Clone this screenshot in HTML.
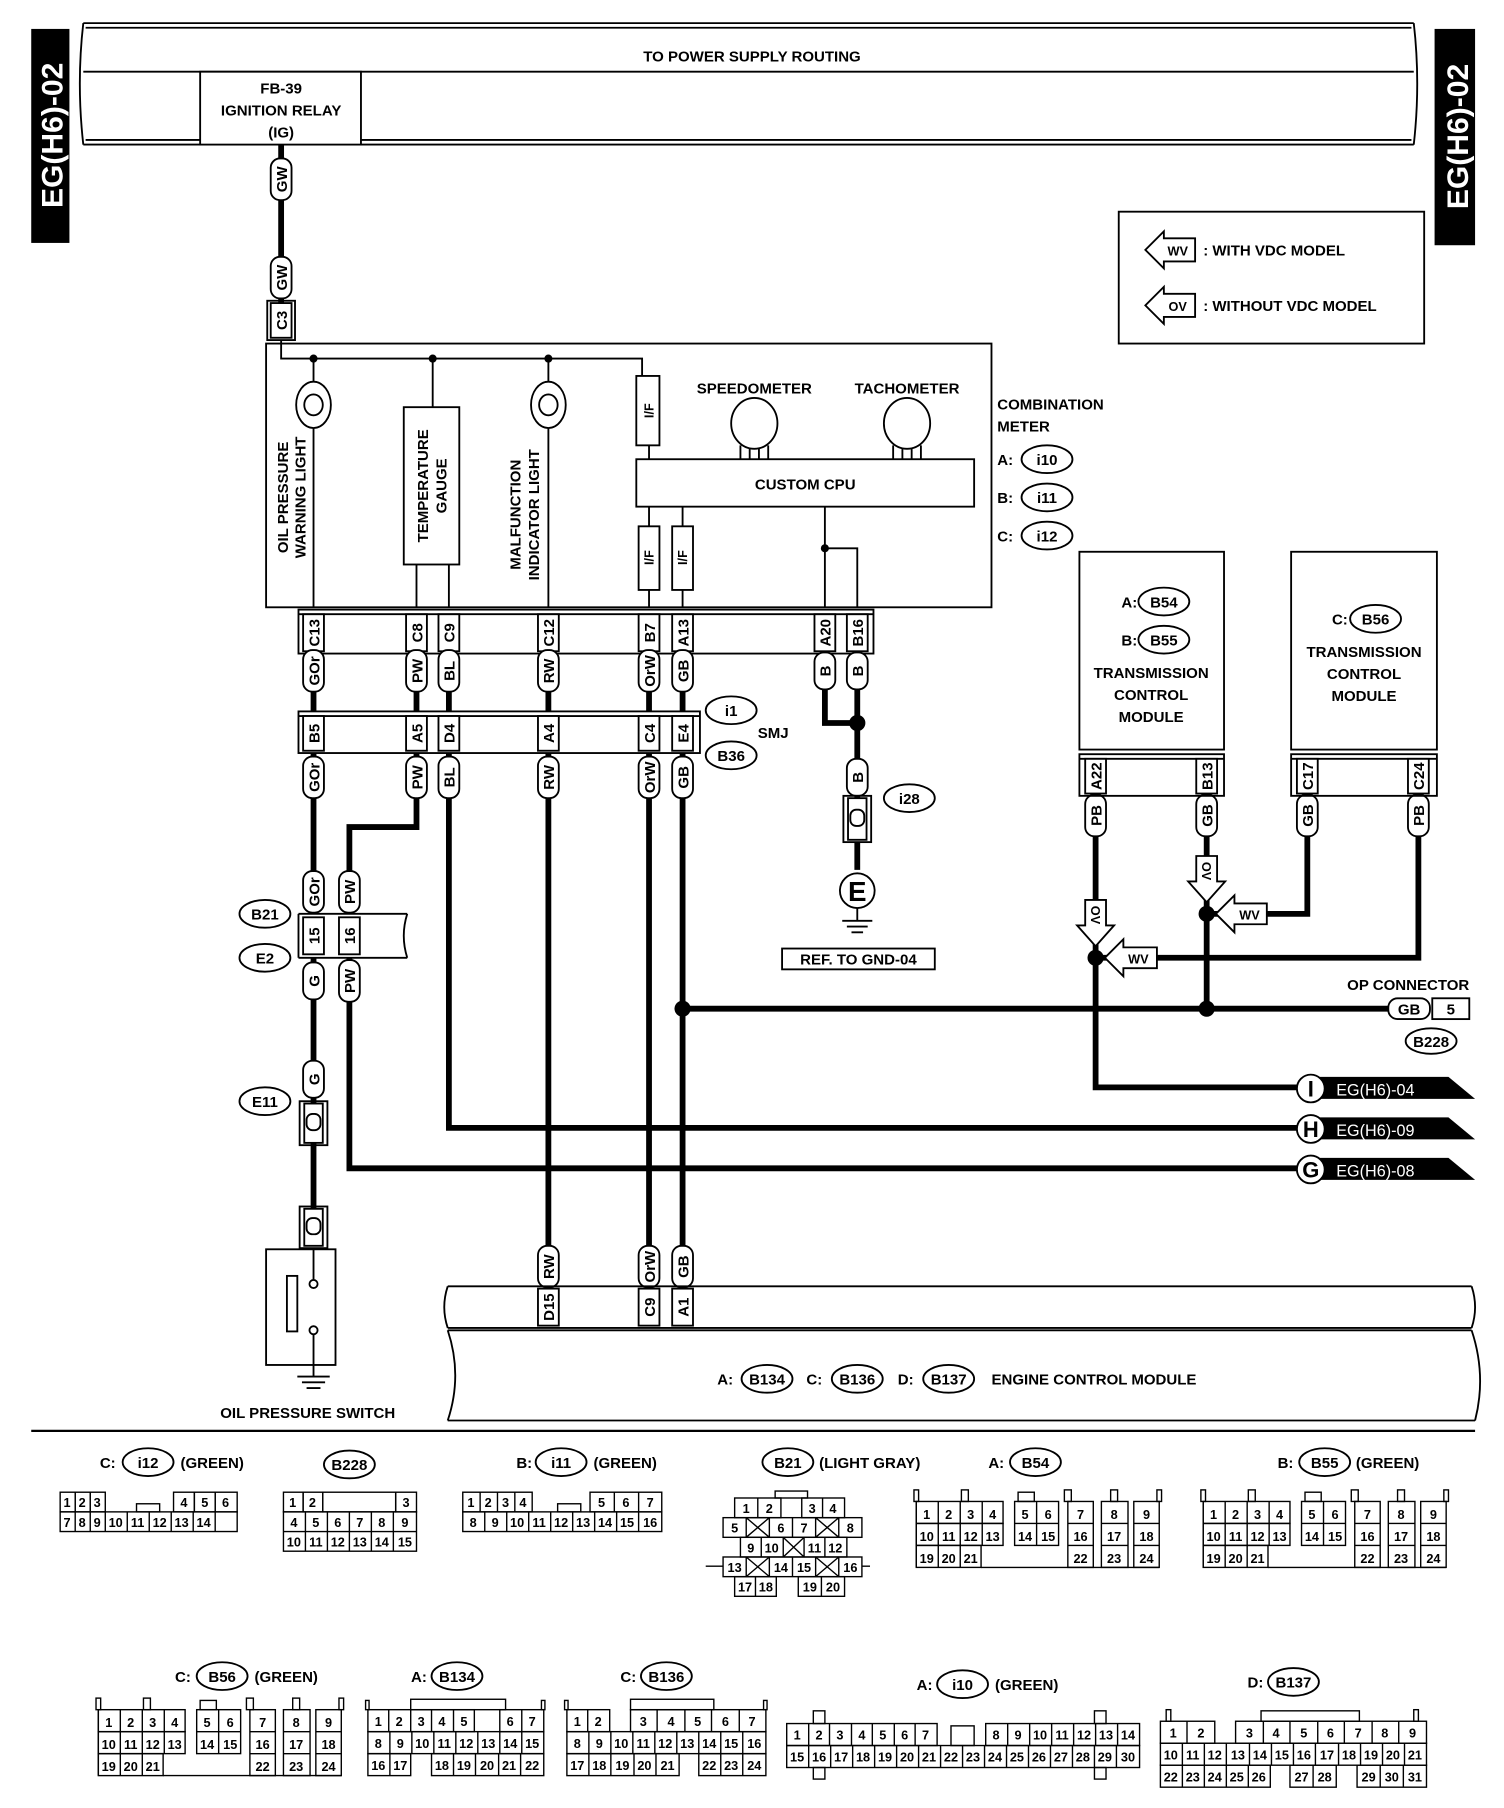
<!DOCTYPE html>
<html><head><meta charset="utf-8"><style>
html,body{margin:0;padding:0;background:#fff}
svg{display:block}
text{font-family:"Liberation Sans",sans-serif;font-weight:bold;fill:#000}
.t{font-size:13px}
.s{font-size:11px}
.w{stroke:#000;stroke-width:5;fill:none}
.n{stroke:#000;stroke-width:1.6;fill:none}
.b{stroke:#000;stroke-width:1.6;fill:#fff}
</style></head><body>
<svg width="1504" height="1808" viewBox="0 0 1300 1563" preserveAspectRatio="none" xmlns="http://www.w3.org/2000/svg">
<rect x="27" y="25" width="33" height="185" fill="#000"/>
<text transform="translate(54,117) rotate(-90)" text-anchor="middle" style="font-size:26px;fill:#fff">EG(H6)-02</text>
<rect x="1240" y="25" width="35" height="187" fill="#000"/>
<text transform="translate(1269,118) rotate(-90)" text-anchor="middle" style="font-size:26px;fill:#fff">EG(H6)-02</text>
<path class="n" d="M72,20 H1222 M72,125 H1222 M72,20 Q66,72 72,125 M1222,20 Q1228,72 1222,125 M72,62 H1222"/>
<path class="n" d="M74,24 H1220 M74,121 H1220" stroke-width="1"/>
<text x="650" y="53" text-anchor="middle" class="t">TO POWER SUPPLY ROUTING</text>
<rect x="173" y="62" width="139" height="63" class="b"/>
<text x="243" y="81" text-anchor="middle" class="t">FB-39</text>
<text x="243" y="100" text-anchor="middle" class="t">IGNITION RELAY</text>
<text x="243" y="119" text-anchor="middle" class="t">(IG)</text>
<rect x="967" y="183" width="264" height="114" class="n"/>
<polygon class="b" points="990,216 1006,200 1006,206 1033,206 1033,226 1006,226 1006,232"/>
<text x="1018" y="221" text-anchor="middle" class="s">WV</text>
<text x="1040" y="221" class="t">: WITH VDC MODEL</text>
<polygon class="b" points="990,264 1006,248 1006,254 1033,254 1033,274 1006,274 1006,280"/>
<text x="1018" y="269" text-anchor="middle" class="s">OV</text>
<text x="1040" y="269" class="t">: WITHOUT VDC MODEL</text>
<line class="w" x1="243" y1="125" x2="243" y2="262"/>
<g transform="translate(243,155)"><rect x="-9" y="-18" width="18" height="36" rx="8" class="b"/><text transform="rotate(-90)" y="5" text-anchor="middle" class="t">GW</text></g>
<g transform="translate(243,240)"><rect x="-9" y="-18" width="18" height="36" rx="8" class="b"/><text transform="rotate(-90)" y="5" text-anchor="middle" class="t">GW</text></g>
<rect x="231" y="260" width="24" height="34" class="n"/>
<rect x="234" y="262" width="18" height="30" class="b"/>
<text transform="translate(248,277) rotate(-90)" text-anchor="middle" class="t">C3</text>
<rect x="230" y="297" width="627" height="228" class="n"/>
<path class="n" d="M243,294 V310 H555 V325"/>
<circle cx="271" cy="310" r="3.5"/><circle cx="374" cy="310" r="3.5"/><circle cx="474" cy="310" r="3.5"/>
<path class="n" d="M271,310 V525 M374,310 V352 M360,488 V525 M388,488 V525 M474,310 V525"/>
<ellipse cx="271" cy="350" rx="15" ry="20" class="b" stroke-width="2"/><ellipse cx="271" cy="350" rx="8" ry="9" class="n" stroke-width="2"/>
<ellipse cx="474" cy="350" rx="15" ry="20" class="b" stroke-width="2"/><ellipse cx="474" cy="350" rx="8" ry="9" class="n" stroke-width="2"/>
<text transform="translate(249,430) rotate(-90)" text-anchor="middle" class="t">OIL PRESSURE</text>
<text transform="translate(264,430) rotate(-90)" text-anchor="middle" class="t">WARNING LIGHT</text>
<rect x="349" y="352" width="48" height="136" class="b"/>
<text transform="translate(370,420) rotate(-90)" text-anchor="middle" class="t">TEMPERATURE</text>
<text transform="translate(386,420) rotate(-90)" text-anchor="middle" class="t">GAUGE</text>
<text transform="translate(450,445) rotate(-90)" text-anchor="middle" class="t">MALFUNCTION</text>
<text transform="translate(466,445) rotate(-90)" text-anchor="middle" class="t">INDICATOR LIGHT</text>
<rect x="550" y="325" width="20" height="60" class="b"/>
<text transform="translate(565,355) rotate(-90)" text-anchor="middle" class="s">I/F</text>
<path class="n" d="M561,385 V397"/>
<text x="652" y="340" text-anchor="middle" class="t">SPEEDOMETER</text>
<text x="784" y="340" text-anchor="middle" class="t">TACHOMETER</text>
<ellipse cx="652" cy="366" rx="20" ry="22" class="b"/>
<ellipse cx="784" cy="366" rx="20" ry="22" class="b"/>
<path class="n" d="M640,385 V397 M648,388 V397 M656,388 V397 M664,385 V397 M772,385 V397 M780,388 V397 M788,388 V397 M796,385 V397"/>
<rect x="550" y="397" width="292" height="41" class="b"/>
<text x="696" y="423" text-anchor="middle" class="t">CUSTOM CPU</text>
<path class="n" d="M561,438 V525 M590,438 V525 M713,438 V525 M713,474 H741 V525"/>
<circle cx="713" cy="474" r="3.5"/>
<rect x="552" y="455" width="18" height="55" class="b"/>
<rect x="581" y="455" width="18" height="55" class="b"/>
<text transform="translate(565,482) rotate(-90)" text-anchor="middle" class="s">I/F</text>
<text transform="translate(594,482) rotate(-90)" text-anchor="middle" class="s">I/F</text>
<text x="862" y="354" class="t">COMBINATION</text>
<text x="862" y="373" class="t">METER</text>
<text x="862" y="402" class="t">A:</text><ellipse cx="905" cy="397" rx="22" ry="12" class="b"/><text x="905" y="402" text-anchor="middle" class="t">i10</text>
<text x="862" y="435" class="t">B:</text><ellipse cx="905" cy="430" rx="22" ry="12" class="b"/><text x="905" y="435" text-anchor="middle" class="t">i11</text>
<text x="862" y="468" class="t">C:</text><ellipse cx="905" cy="463" rx="22" ry="12" class="b"/><text x="905" y="468" text-anchor="middle" class="t">i12</text>
<rect x="258" y="527" width="497" height="38" class="n"/>
<line x1="258" y1="531" x2="755" y2="531" class="n" stroke-width="1"/>
<g class="t">
<rect x="262" y="531" width="18" height="32" class="b"/><text transform="translate(276,547) rotate(-90)" text-anchor="middle">C13</text>
<rect x="351" y="531" width="18" height="32" class="b"/><text transform="translate(365,547) rotate(-90)" text-anchor="middle">C8</text>
<rect x="379" y="531" width="18" height="32" class="b"/><text transform="translate(393,547) rotate(-90)" text-anchor="middle">C9</text>
<rect x="465" y="531" width="18" height="32" class="b"/><text transform="translate(479,547) rotate(-90)" text-anchor="middle">C12</text>
<rect x="552" y="531" width="18" height="32" class="b"/><text transform="translate(566,547) rotate(-90)" text-anchor="middle">B7</text>
<rect x="581" y="531" width="18" height="32" class="b"/><text transform="translate(595,547) rotate(-90)" text-anchor="middle">A13</text>
<rect x="704" y="531" width="18" height="32" class="b"/><text transform="translate(718,547) rotate(-90)" text-anchor="middle">A20</text>
<rect x="732" y="531" width="18" height="32" class="b"/><text transform="translate(746,547) rotate(-90)" text-anchor="middle">B16</text>
</g>
<path class="w" d="M271,565 V615 M360,565 V615 M388,565 V615 M474,565 V615 M561,565 V615 M590,565 V615"/>
<path class="w" d="M713,565 V625 H741 M741,565 V690"/>
<circle cx="741" cy="625" r="7"/>
<g class="t">
<g transform="translate(271,580)"><rect x="-9" y="-18" width="18" height="36" rx="8" class="b"/><text transform="rotate(-90)" y="5" text-anchor="middle">GOr</text></g>
<g transform="translate(360,580)"><rect x="-9" y="-18" width="18" height="36" rx="8" class="b"/><text transform="rotate(-90)" y="5" text-anchor="middle">PW</text></g>
<g transform="translate(388,580)"><rect x="-9" y="-18" width="18" height="36" rx="8" class="b"/><text transform="rotate(-90)" y="5" text-anchor="middle">BL</text></g>
<g transform="translate(474,580)"><rect x="-9" y="-18" width="18" height="36" rx="8" class="b"/><text transform="rotate(-90)" y="5" text-anchor="middle">RW</text></g>
<g transform="translate(561,580)"><rect x="-9" y="-18" width="18" height="36" rx="8" class="b"/><text transform="rotate(-90)" y="5" text-anchor="middle">OrW</text></g>
<g transform="translate(590,580)"><rect x="-9" y="-18" width="18" height="36" rx="8" class="b"/><text transform="rotate(-90)" y="5" text-anchor="middle">GB</text></g>
<g transform="translate(713,580)"><rect x="-9" y="-16" width="18" height="32" rx="8" class="b"/><text transform="rotate(-90)" y="5" text-anchor="middle">B</text></g>
<g transform="translate(741,580)"><rect x="-9" y="-16" width="18" height="32" rx="8" class="b"/><text transform="rotate(-90)" y="5" text-anchor="middle">B</text></g>
</g>
<rect x="258" y="615" width="347" height="36" class="n"/>
<line x1="258" y1="619" x2="605" y2="619" class="n" stroke-width="1"/>
<g class="t">
<rect x="262" y="619" width="18" height="30" class="b"/><text transform="translate(276,634) rotate(-90)" text-anchor="middle">B5</text>
<rect x="351" y="619" width="18" height="30" class="b"/><text transform="translate(365,634) rotate(-90)" text-anchor="middle">A5</text>
<rect x="379" y="619" width="18" height="30" class="b"/><text transform="translate(393,634) rotate(-90)" text-anchor="middle">D4</text>
<rect x="465" y="619" width="18" height="30" class="b"/><text transform="translate(479,634) rotate(-90)" text-anchor="middle">A4</text>
<rect x="552" y="619" width="18" height="30" class="b"/><text transform="translate(566,634) rotate(-90)" text-anchor="middle">C4</text>
<rect x="581" y="619" width="18" height="30" class="b"/><text transform="translate(595,634) rotate(-90)" text-anchor="middle">E4</text>
</g>
<ellipse cx="632" cy="614" rx="22" ry="12" class="b"/><text x="632" y="619" text-anchor="middle" class="t">i1</text>
<text x="655" y="638" class="t">SMJ</text>
<ellipse cx="632" cy="653" rx="22" ry="12" class="b"/><text x="632" y="658" text-anchor="middle" class="t">B36</text>
<path class="w" d="M271,651 V790 M360,651 V715 H302 V790 M388,651 V975 H1125 M474,651 V1112 M561,651 V1112 M590,651 V1112 M590,872 H1200"/>
<circle cx="590" cy="872" r="7"/>
<g class="t">
<g transform="translate(271,672)"><rect x="-9" y="-18" width="18" height="36" rx="8" class="b"/><text transform="rotate(-90)" y="5" text-anchor="middle">GOr</text></g>
<g transform="translate(360,672)"><rect x="-9" y="-18" width="18" height="36" rx="8" class="b"/><text transform="rotate(-90)" y="5" text-anchor="middle">PW</text></g>
<g transform="translate(388,672)"><rect x="-9" y="-18" width="18" height="36" rx="8" class="b"/><text transform="rotate(-90)" y="5" text-anchor="middle">BL</text></g>
<g transform="translate(474,672)"><rect x="-9" y="-18" width="18" height="36" rx="8" class="b"/><text transform="rotate(-90)" y="5" text-anchor="middle">RW</text></g>
<g transform="translate(561,672)"><rect x="-9" y="-18" width="18" height="36" rx="8" class="b"/><text transform="rotate(-90)" y="5" text-anchor="middle">OrW</text></g>
<g transform="translate(590,672)"><rect x="-9" y="-18" width="18" height="36" rx="8" class="b"/><text transform="rotate(-90)" y="5" text-anchor="middle">GB</text></g>
<g transform="translate(741,672)"><rect x="-9" y="-16" width="18" height="32" rx="8" class="b"/><text transform="rotate(-90)" y="5" text-anchor="middle">B</text></g>
<g transform="translate(271,771)"><rect x="-9" y="-18" width="18" height="36" rx="8" class="b"/><text transform="rotate(-90)" y="5" text-anchor="middle">GOr</text></g>
<g transform="translate(302,771)"><rect x="-9" y="-18" width="18" height="36" rx="8" class="b"/><text transform="rotate(-90)" y="5" text-anchor="middle">PW</text></g>
</g>
<rect x="729" y="688" width="24" height="40" class="n"/>
<rect x="733" y="690" width="16" height="36" class="b"/>
<rect x="735" y="700" width="12" height="14" rx="5" class="n"/>
<line class="w" x1="741" y1="728" x2="741" y2="752" stroke-width="4"/>
<ellipse cx="786" cy="690" rx="22" ry="12" class="b"/><text x="786" y="695" text-anchor="middle" class="t">i28</text>
<circle cx="741" cy="770" r="15" class="b" stroke-width="2.5"/>
<text x="741" y="779" text-anchor="middle" style="font-size:24px">E</text>
<path class="n" d="M741,785 V796 M728,796 H754 M732,801 H750 M736,806 H746"/>
<rect x="676" y="820" width="132" height="18" class="b"/>
<text x="742" y="834" text-anchor="middle" class="t">REF. TO GND-04</text>
<path class="n" d="M258,790 H352 M258,828 H352 M258,790 V828 M352,790 Q346,809 352,828"/>
<rect x="262" y="793" width="18" height="32" class="b"/><text transform="translate(276,809) rotate(-90)" text-anchor="middle" class="t">15</text>
<rect x="293" y="793" width="18" height="32" class="b"/><text transform="translate(307,809) rotate(-90)" text-anchor="middle" class="t">16</text>
<ellipse cx="229" cy="790" rx="22" ry="12" class="b"/><text x="229" y="795" text-anchor="middle" class="t">B21</text>
<ellipse cx="229" cy="828" rx="22" ry="12" class="b"/><text x="229" y="833" text-anchor="middle" class="t">E2</text>
<path class="w" d="M271,828 V955 M302,828 V1010 H1125 M271,985 V1045"/>
<g class="t">
<g transform="translate(271,848)"><rect x="-9" y="-16" width="18" height="32" rx="8" class="b"/><text transform="rotate(-90)" y="5" text-anchor="middle">G</text></g>
<g transform="translate(302,848)"><rect x="-9" y="-18" width="18" height="36" rx="8" class="b"/><text transform="rotate(-90)" y="5" text-anchor="middle">PW</text></g>
<g transform="translate(271,933)"><rect x="-9" y="-16" width="18" height="32" rx="8" class="b"/><text transform="rotate(-90)" y="5" text-anchor="middle">G</text></g>
</g>
<rect x="259" y="952" width="24" height="38" class="n"/>
<rect x="263" y="954" width="16" height="34" class="b"/>
<rect x="265" y="963" width="12" height="14" rx="5" class="n"/>
<ellipse cx="229" cy="952" rx="22" ry="12" class="b"/><text x="229" y="957" text-anchor="middle" class="t">E11</text>
<rect x="259" y="1043" width="24" height="36" class="n"/>
<rect x="263" y="1045" width="16" height="32" class="b"/>
<rect x="265" y="1053" width="12" height="14" rx="5" class="n"/>
<rect x="230" y="1080" width="60" height="100" class="n"/>
<rect x="248" y="1103" width="9" height="48" class="n"/>
<circle cx="271" cy="1110" r="3.5" class="b"/><circle cx="271" cy="1150" r="3.5" class="b"/>
<path class="n" d="M271,1079 V1106 M271,1154 V1180 M271,1180 V1190 M257,1190 H285 M261,1195 H281 M265,1200 H277"/>
<text x="266" y="1226" text-anchor="middle" class="t">OIL PRESSURE SWITCH</text>
<path class="w" d="M947,688 V940 H1125"/>
<path class="w" d="M1043,688 V872 M1130,688 V790 H1043 M1226,688 V828 H947"/>
<circle cx="947" cy="828" r="7"/><circle cx="1043" cy="790" r="7"/><circle cx="1043" cy="872" r="7"/>
<g class="t">
<g transform="translate(947,705)"><rect x="-9" y="-18" width="18" height="36" rx="8" class="b"/><text transform="rotate(-90)" y="5" text-anchor="middle">PB</text></g>
<g transform="translate(1043,705)"><rect x="-9" y="-18" width="18" height="36" rx="8" class="b"/><text transform="rotate(-90)" y="5" text-anchor="middle">GB</text></g>
<g transform="translate(1130,705)"><rect x="-9" y="-18" width="18" height="36" rx="8" class="b"/><text transform="rotate(-90)" y="5" text-anchor="middle">GB</text></g>
<g transform="translate(1226,705)"><rect x="-9" y="-18" width="18" height="36" rx="8" class="b"/><text transform="rotate(-90)" y="5" text-anchor="middle">PB</text></g>
</g>
<polygon class="b" points="938,778 956,778 956,800 963,800 947,818 931,800 938,800"/>
<g transform="translate(947,791) rotate(90)"><text y="4" text-anchor="middle" class="s">OV</text></g>
<polygon class="b" points="1034,740 1052,740 1052,762 1059,762 1043,780 1027,762 1034,762"/>
<g transform="translate(1043,753) rotate(90)"><text y="4" text-anchor="middle" class="s">OV</text></g>
<polygon class="b" points="955,828 971,812 971,819 1000,819 1000,837 971,837 971,844"/>
<text x="984" y="833" text-anchor="middle" class="s">WV</text>
<polygon class="b" points="1051,790 1067,774 1067,781 1095,781 1095,799 1067,799 1067,806"/>
<text x="1080" y="795" text-anchor="middle" class="s">WV</text>
<text x="1270" y="856" text-anchor="end" class="t">OP CONNECTOR</text>
<rect x="1200" y="863" width="36" height="18" rx="8" class="b"/><text x="1218" y="877" text-anchor="middle" class="t">GB</text>
<rect x="1238" y="863" width="32" height="18" class="b"/><text x="1254" y="877" text-anchor="middle" class="t">5</text>
<ellipse cx="1237" cy="900" rx="22" ry="11" class="b"/><text x="1237" y="905" text-anchor="middle" class="t">B228</text>
<polygon points="1140,931 1252,931 1275,950 1140,950"/><circle cx="1133" cy="941" r="12" class="b" stroke-width="2.5"/>
<text x="1133" y="948" text-anchor="middle" style="font-size:19px">I</text><text x="1155" y="947" style="font-size:14px;fill:#fff;font-weight:normal">EG(H6)-04</text>
<polygon points="1140,966 1252,966 1275,985 1140,985"/><circle cx="1133" cy="976" r="12" class="b" stroke-width="2.5"/>
<text x="1133" y="983" text-anchor="middle" style="font-size:19px">H</text><text x="1155" y="982" style="font-size:14px;fill:#fff;font-weight:normal">EG(H6)-09</text>
<polygon points="1140,1001 1252,1001 1275,1020 1140,1020"/><circle cx="1133" cy="1011" r="12" class="b" stroke-width="2.5"/>
<text x="1133" y="1018" text-anchor="middle" style="font-size:19px">G</text><text x="1155" y="1017" style="font-size:14px;fill:#fff;font-weight:normal">EG(H6)-08</text>
<rect x="933" y="477" width="125" height="171" class="n"/>
<rect x="933" y="652" width="125" height="36" class="n"/>
<line x1="933" y1="656" x2="1058" y2="656" class="n" stroke-width="1"/>
<rect x="938" y="656" width="18" height="30" class="b"/><text transform="translate(952,671) rotate(-90)" text-anchor="middle" class="t">A22</text>
<rect x="1034" y="656" width="18" height="30" class="b"/><text transform="translate(1048,671) rotate(-90)" text-anchor="middle" class="t">B13</text>
<text x="983" y="525" class="t" text-anchor="end">A:</text><ellipse cx="1006" cy="520" rx="22" ry="12" class="b"/><text x="1006" y="525" text-anchor="middle" class="t">B54</text>
<text x="983" y="558" class="t" text-anchor="end">B:</text><ellipse cx="1006" cy="553" rx="22" ry="12" class="b"/><text x="1006" y="558" text-anchor="middle" class="t">B55</text>
<text x="995" y="586" text-anchor="middle" class="t">TRANSMISSION</text>
<text x="995" y="605" text-anchor="middle" class="t">CONTROL</text>
<text x="995" y="624" text-anchor="middle" class="t">MODULE</text>
<rect x="1116" y="477" width="126" height="171" class="n"/>
<rect x="1116" y="652" width="126" height="36" class="n"/>
<line x1="1116" y1="656" x2="1242" y2="656" class="n" stroke-width="1"/>
<rect x="1121" y="656" width="18" height="30" class="b"/><text transform="translate(1135,671) rotate(-90)" text-anchor="middle" class="t">C17</text>
<rect x="1217" y="656" width="18" height="30" class="b"/><text transform="translate(1231,671) rotate(-90)" text-anchor="middle" class="t">C24</text>
<text x="1165" y="540" class="t" text-anchor="end">C:</text><ellipse cx="1189" cy="535" rx="22" ry="12" class="b"/><text x="1189" y="540" text-anchor="middle" class="t">B56</text>
<text x="1179" y="568" text-anchor="middle" class="t">TRANSMISSION</text>
<text x="1179" y="587" text-anchor="middle" class="t">CONTROL</text>
<text x="1179" y="606" text-anchor="middle" class="t">MODULE</text>
<g class="t">
<g transform="translate(474,1095)"><rect x="-9" y="-18" width="18" height="36" rx="8" class="b"/><text transform="rotate(-90)" y="5" text-anchor="middle">RW</text></g>
<g transform="translate(561,1095)"><rect x="-9" y="-18" width="18" height="36" rx="8" class="b"/><text transform="rotate(-90)" y="5" text-anchor="middle">OrW</text></g>
<g transform="translate(590,1095)"><rect x="-9" y="-18" width="18" height="36" rx="8" class="b"/><text transform="rotate(-90)" y="5" text-anchor="middle">GB</text></g>
</g>
<path class="n" d="M387,1112 H1272 M387,1148 H1272 M387,1112 Q381,1130 387,1148 M1272,1112 Q1278,1130 1272,1148"/>
<rect x="465" y="1114" width="18" height="32" class="b"/><text transform="translate(479,1130) rotate(-90)" text-anchor="middle" class="t">D15</text>
<rect x="552" y="1114" width="18" height="32" class="b"/><text transform="translate(566,1130) rotate(-90)" text-anchor="middle" class="t">C9</text>
<rect x="581" y="1114" width="18" height="32" class="b"/><text transform="translate(595,1130) rotate(-90)" text-anchor="middle" class="t">A1</text>
<path class="n" d="M387,1150 H1272 M387,1228 H1275 M387,1150 Q400,1189 387,1228 M1272,1150 Q1285,1189 1275,1228"/>
<text x="620" y="1197" class="t">A:</text><ellipse cx="663" cy="1192" rx="22" ry="12" class="b"/><text x="663" y="1197" text-anchor="middle" class="t">B134</text>
<text x="697" y="1197" class="t">C:</text><ellipse cx="741" cy="1192" rx="22" ry="12" class="b"/><text x="741" y="1197" text-anchor="middle" class="t">B136</text>
<text x="776" y="1197" class="t">D:</text><ellipse cx="820" cy="1192" rx="22" ry="12" class="b"/><text x="820" y="1197" text-anchor="middle" class="t">B137</text>
<text x="857" y="1197" class="t">ENGINE CONTROL MODULE</text>
<line x1="27" y1="1237" x2="1275" y2="1237" stroke="#000" stroke-width="2"/>
<g class="t">
<text x="100" y="1269" text-anchor="end">C:</text><ellipse cx="128" cy="1264" rx="22" ry="12" class="b"/><text x="128" y="1269" text-anchor="middle">i12</text><text x="156" y="1269">(GREEN)</text>
<ellipse cx="302" cy="1266" rx="22" ry="12" class="b"/><text x="302" y="1271" text-anchor="middle">B228</text>
<text x="460" y="1269" text-anchor="end">B:</text><ellipse cx="485" cy="1264" rx="22" ry="12" class="b"/><text x="485" y="1269" text-anchor="middle">i11</text><text x="513" y="1269">(GREEN)</text>
<ellipse cx="681" cy="1264" rx="22" ry="12" class="b"/><text x="681" y="1269" text-anchor="middle">B21</text><text x="708" y="1269">(LIGHT GRAY)</text>
<text x="868" y="1269" text-anchor="end">A:</text><ellipse cx="895" cy="1264" rx="22" ry="12" class="b"/><text x="895" y="1269" text-anchor="middle">B54</text>
<text x="1118" y="1269" text-anchor="end">B:</text><ellipse cx="1145" cy="1264" rx="22" ry="12" class="b"/><text x="1145" y="1269" text-anchor="middle">B55</text><text x="1172" y="1269">(GREEN)</text>
<text x="165" y="1454" text-anchor="end">C:</text><ellipse cx="192" cy="1449" rx="22" ry="12" class="b"/><text x="192" y="1454" text-anchor="middle">B56</text><text x="220" y="1454">(GREEN)</text>
<text x="369" y="1454" text-anchor="end">A:</text><ellipse cx="395" cy="1449" rx="22" ry="12" class="b"/><text x="395" y="1454" text-anchor="middle">B134</text>
<text x="550" y="1454" text-anchor="end">C:</text><ellipse cx="576" cy="1449" rx="22" ry="12" class="b"/><text x="576" y="1454" text-anchor="middle">B136</text>
<text x="806" y="1461" text-anchor="end">A:</text><ellipse cx="832" cy="1456" rx="22" ry="12" class="b"/><text x="832" y="1461" text-anchor="middle">i10</text><text x="860" y="1461">(GREEN)</text>
<text x="1092" y="1459" text-anchor="end">D:</text><ellipse cx="1118" cy="1454" rx="22" ry="12" class="b"/><text x="1118" y="1459" text-anchor="middle">B137</text>
</g>
<g class="s" style="font-weight:normal">
<g fill="none" stroke="#000" stroke-width="1.2">
<rect x="52" y="1290" width="13" height="17"/><rect x="65" y="1290" width="13" height="17"/><rect x="78" y="1290" width="13" height="17"/>
<rect x="150" y="1290" width="18" height="17"/><rect x="168" y="1290" width="18" height="17"/><rect x="186" y="1290" width="19" height="17"/>
<rect x="118" y="1300" width="20" height="7"/>
<rect x="52" y="1307" width="153" height="17"/>
<path d="M65,1307V1324M78,1307V1324M91,1307V1324M110,1307V1324M129,1307V1324M148,1307V1324M167,1307V1324M186,1307V1324"/>
</g>
<text x="58" y="1303" text-anchor="middle">1</text><text x="71" y="1303" text-anchor="middle">2</text><text x="84" y="1303" text-anchor="middle">3</text><text x="159" y="1303" text-anchor="middle">4</text><text x="177" y="1303" text-anchor="middle">5</text><text x="195" y="1303" text-anchor="middle">6</text>
<text x="58" y="1320" text-anchor="middle">7</text><text x="71" y="1320" text-anchor="middle">8</text><text x="84" y="1320" text-anchor="middle">9</text><text x="100" y="1320" text-anchor="middle">10</text><text x="119" y="1320" text-anchor="middle">11</text><text x="138" y="1320" text-anchor="middle">12</text><text x="157" y="1320" text-anchor="middle">13</text><text x="176" y="1320" text-anchor="middle">14</text>
<g fill="none" stroke="#000" stroke-width="1.2">
<rect x="245" y="1290" width="17" height="17"/><rect x="262" y="1290" width="17" height="17"/><rect x="279" y="1290" width="63" height="17"/><rect x="342" y="1290" width="18" height="17"/>
<rect x="245" y="1307" width="115" height="34"/><line x1="245" y1="1324" x2="360" y2="1324"/>
<path d="M264,1307V1341M283,1307V1341M302,1307V1341M321,1307V1341M340,1307V1341"/>
</g>
<text x="253" y="1303" text-anchor="middle">1</text><text x="270" y="1303" text-anchor="middle">2</text><text x="351" y="1303" text-anchor="middle">3</text>
<text x="254" y="1320" text-anchor="middle">4</text><text x="273" y="1320" text-anchor="middle">5</text><text x="292" y="1320" text-anchor="middle">6</text><text x="311" y="1320" text-anchor="middle">7</text><text x="330" y="1320" text-anchor="middle">8</text><text x="350" y="1320" text-anchor="middle">9</text>
<text x="254" y="1337" text-anchor="middle">10</text><text x="273" y="1337" text-anchor="middle">11</text><text x="292" y="1337" text-anchor="middle">12</text><text x="311" y="1337" text-anchor="middle">13</text><text x="330" y="1337" text-anchor="middle">14</text><text x="350" y="1337" text-anchor="middle">15</text>
<g fill="none" stroke="#000" stroke-width="1.2">
<rect x="400" y="1290" width="60" height="17"/><path d="M415,1290V1307M430,1290V1307M445,1290V1307"/>
<rect x="510" y="1290" width="62" height="17"/><path d="M531,1290V1307M552,1290V1307"/>
<rect x="482" y="1300" width="20" height="7"/>
<rect x="400" y="1307" width="172" height="17"/>
<path d="M419,1307V1324M438,1307V1324M457,1307V1324M476,1307V1324M495,1307V1324M514,1307V1324M533,1307V1324M552,1307V1324"/>
</g>
<text x="407" y="1303" text-anchor="middle">1</text><text x="422" y="1303" text-anchor="middle">2</text><text x="437" y="1303" text-anchor="middle">3</text><text x="452" y="1303" text-anchor="middle">4</text><text x="520" y="1303" text-anchor="middle">5</text><text x="541" y="1303" text-anchor="middle">6</text><text x="562" y="1303" text-anchor="middle">7</text>
<text x="409" y="1320" text-anchor="middle">8</text><text x="428" y="1320" text-anchor="middle">9</text><text x="447" y="1320" text-anchor="middle">10</text><text x="466" y="1320" text-anchor="middle">11</text><text x="485" y="1320" text-anchor="middle">12</text><text x="504" y="1320" text-anchor="middle">13</text><text x="523" y="1320" text-anchor="middle">14</text><text x="542" y="1320" text-anchor="middle">15</text><text x="562" y="1320" text-anchor="middle">16</text>
<g fill="none" stroke="#000" stroke-width="1.2">
<rect x="635" y="1295" width="40" height="17"/><line x1="655" y1="1295" x2="655" y2="1312"/>
<rect x="693" y="1295" width="37" height="17"/><line x1="711" y1="1295" x2="711" y2="1312"/>
<rect x="670" y="1289" width="28" height="6"/>
<rect x="625" y="1312" width="120" height="17"/><path d="M645,1312V1329M665,1312V1329M685,1312V1329M705,1312V1329M725,1312V1329M645,1312L665,1329M665,1312L645,1329M705,1312L725,1329M725,1312L705,1329"/>
<rect x="640" y="1329" width="92" height="17"/><path d="M658,1329V1346M677,1329V1346M695,1329V1346M713,1329V1346M677,1329L695,1346M695,1329L677,1346"/>
<rect x="625" y="1346" width="120" height="17"/><path d="M645,1346V1363M665,1346V1363M685,1346V1363M705,1346V1363M725,1346V1363M645,1346L665,1363M665,1346L645,1363M705,1346L725,1363M725,1346L705,1363"/>
<path d="M610,1354H625M745,1354H752"/>
<rect x="635" y="1363" width="36" height="17"/><line x1="653" y1="1363" x2="653" y2="1380"/>
<rect x="690" y="1363" width="40" height="17"/><line x1="710" y1="1363" x2="710" y2="1380"/>
</g>
<text x="645" y="1308" text-anchor="middle">1</text><text x="665" y="1308" text-anchor="middle">2</text><text x="702" y="1308" text-anchor="middle">3</text><text x="720" y="1308" text-anchor="middle">4</text>
<text x="635" y="1325" text-anchor="middle">5</text><text x="675" y="1325" text-anchor="middle">6</text><text x="695" y="1325" text-anchor="middle">7</text><text x="735" y="1325" text-anchor="middle">8</text>
<text x="649" y="1342" text-anchor="middle">9</text><text x="667" y="1342" text-anchor="middle">10</text><text x="704" y="1342" text-anchor="middle">11</text><text x="722" y="1342" text-anchor="middle">12</text>
<text x="635" y="1359" text-anchor="middle">13</text><text x="675" y="1359" text-anchor="middle">14</text><text x="695" y="1359" text-anchor="middle">15</text><text x="735" y="1359" text-anchor="middle">16</text>
<text x="644" y="1376" text-anchor="middle">17</text><text x="662" y="1376" text-anchor="middle">18</text><text x="700" y="1376" text-anchor="middle">19</text><text x="720" y="1376" text-anchor="middle">20</text>
</g>
<defs>
<g id="tcm" fill="none" stroke="#000" stroke-width="1.2">
<rect x="0" y="0" width="75" height="19"/><rect x="0" y="19" width="75" height="19"/><path d="M19,0V38M38,0V38M57,0V38"/>
<rect x="0" y="38" width="56" height="19"/><path d="M19,38V57M38,38V57"/>
<rect x="85" y="0" width="38" height="38"/><path d="M104,0V38M85,19H123"/>
<rect x="131" y="0" width="22" height="57"/><rect x="160" y="0" width="23" height="57"/><rect x="188" y="0" width="22" height="57"/>
<path d="M131,19H153M160,19H183M188,19H210M131,38H153M160,38H183M188,38H210"/>
<path d="M0,57V0M56,57H210" />
<rect x="-2" y="-10" width="4" height="10"/><rect x="39" y="-10" width="6" height="10"/><rect x="88" y="-8" width="14" height="8"/><rect x="128" y="-10" width="6" height="10"/><rect x="168" y="-10" width="6" height="10"/><rect x="208" y="-10" width="4" height="10"/>
</g>
</defs>
<use href="#tcm" x="792" y="1298"/>
<use href="#tcm" x="1040" y="1298"/>
<use href="#tcm" x="85" y="1478"/>
<g class="s" style="font-weight:normal" text-anchor="middle">
<text x="801" y="1313">1</text><text x="820" y="1313">2</text><text x="839" y="1313">3</text><text x="858" y="1313">4</text><text x="886" y="1313">5</text><text x="906" y="1313">6</text><text x="934" y="1313">7</text><text x="963" y="1313">8</text><text x="991" y="1313">9</text>
<text x="801" y="1332">10</text><text x="820" y="1332">11</text><text x="839" y="1332">12</text><text x="858" y="1332">13</text><text x="886" y="1332">14</text><text x="906" y="1332">15</text><text x="934" y="1332">16</text><text x="963" y="1332">17</text><text x="991" y="1332">18</text>
<text x="801" y="1351">19</text><text x="820" y="1351">20</text><text x="839" y="1351">21</text><text x="934" y="1351">22</text><text x="963" y="1351">23</text><text x="991" y="1351">24</text>
<text x="1049" y="1313">1</text><text x="1068" y="1313">2</text><text x="1087" y="1313">3</text><text x="1106" y="1313">4</text><text x="1134" y="1313">5</text><text x="1154" y="1313">6</text><text x="1182" y="1313">7</text><text x="1211" y="1313">8</text><text x="1239" y="1313">9</text>
<text x="1049" y="1332">10</text><text x="1068" y="1332">11</text><text x="1087" y="1332">12</text><text x="1106" y="1332">13</text><text x="1134" y="1332">14</text><text x="1154" y="1332">15</text><text x="1182" y="1332">16</text><text x="1211" y="1332">17</text><text x="1239" y="1332">18</text>
<text x="1049" y="1351">19</text><text x="1068" y="1351">20</text><text x="1087" y="1351">21</text><text x="1182" y="1351">22</text><text x="1211" y="1351">23</text><text x="1239" y="1351">24</text>
<text x="94" y="1493">1</text><text x="113" y="1493">2</text><text x="132" y="1493">3</text><text x="151" y="1493">4</text><text x="179" y="1493">5</text><text x="199" y="1493">6</text><text x="227" y="1493">7</text><text x="256" y="1493">8</text><text x="284" y="1493">9</text>
<text x="94" y="1512">10</text><text x="113" y="1512">11</text><text x="132" y="1512">12</text><text x="151" y="1512">13</text><text x="179" y="1512">14</text><text x="199" y="1512">15</text><text x="227" y="1512">16</text><text x="256" y="1512">17</text><text x="284" y="1512">18</text>
<text x="94" y="1531">19</text><text x="113" y="1531">20</text><text x="132" y="1531">21</text><text x="227" y="1531">22</text><text x="256" y="1531">23</text><text x="284" y="1531">24</text>
</g>
<g fill="none" stroke="#000" stroke-width="1.2">
<rect x="318" y="1478" width="92" height="19"/><path d="M336,1478V1497M355,1478V1497M373,1478V1497M392,1478V1497"/>
<rect x="432" y="1478" width="38" height="19"/><line x1="451" y1="1478" x2="451" y2="1497"/>
<rect x="355" y="1469" width="82" height="9"/>
<rect x="318" y="1497" width="152" height="19"/><path d="M337,1497V1516M356,1497V1516M375,1497V1516M394,1497V1516M413,1497V1516M432,1497V1516M451,1497V1516"/>
<rect x="318" y="1516" width="37" height="19"/><line x1="337" y1="1516" x2="337" y2="1535"/>
<rect x="373" y="1516" width="97" height="19"/><path d="M392,1516V1535M411,1516V1535M431,1516V1535M450,1516V1535"/>
<rect x="316" y="1470" width="3" height="8"/><rect x="468" y="1470" width="3" height="8"/>
</g>
<g class="s" style="font-weight:normal" text-anchor="middle">
<text x="327" y="1492">1</text><text x="345" y="1492">2</text><text x="364" y="1492">3</text><text x="382" y="1492">4</text><text x="401" y="1492">5</text><text x="441" y="1492">6</text><text x="460" y="1492">7</text>
<text x="327" y="1511">8</text><text x="346" y="1511">9</text><text x="365" y="1511">10</text><text x="384" y="1511">11</text><text x="403" y="1511">12</text><text x="422" y="1511">13</text><text x="441" y="1511">14</text><text x="460" y="1511">15</text>
<text x="327" y="1530">16</text><text x="346" y="1530">17</text><text x="382" y="1530">18</text><text x="401" y="1530">19</text><text x="421" y="1530">20</text><text x="440" y="1530">21</text><text x="460" y="1530">22</text>
</g>
<g fill="none" stroke="#000" stroke-width="1.2">
<rect x="490" y="1478" width="37" height="19"/><line x1="508" y1="1478" x2="508" y2="1497"/>
<rect x="545" y="1478" width="117" height="19"/><path d="M568,1478V1497M592,1478V1497M615,1478V1497M639,1478V1497"/>
<rect x="545" y="1469" width="72" height="9"/>
<rect x="490" y="1497" width="172" height="19"/><path d="M509,1497V1516M528,1497V1516M547,1497V1516M566,1497V1516M585,1497V1516M604,1497V1516M623,1497V1516M642,1497V1516"/>
<rect x="490" y="1516" width="97" height="19"/><path d="M509,1516V1535M528,1516V1535M548,1516V1535M567,1516V1535"/>
<rect x="604" y="1516" width="58" height="19"/><path d="M623,1516V1535M642,1516V1535"/>
<rect x="488" y="1470" width="3" height="8"/><rect x="660" y="1470" width="3" height="8"/>
</g>
<g class="s" style="font-weight:normal" text-anchor="middle">
<text x="499" y="1492">1</text><text x="517" y="1492">2</text><text x="556" y="1492">3</text><text x="580" y="1492">4</text><text x="603" y="1492">5</text><text x="627" y="1492">6</text><text x="650" y="1492">7</text>
<text x="499" y="1511">8</text><text x="518" y="1511">9</text><text x="537" y="1511">10</text><text x="556" y="1511">11</text><text x="575" y="1511">12</text><text x="594" y="1511">13</text><text x="613" y="1511">14</text><text x="632" y="1511">15</text><text x="652" y="1511">16</text>
<text x="499" y="1530">17</text><text x="518" y="1530">18</text><text x="538" y="1530">19</text><text x="557" y="1530">20</text><text x="577" y="1530">21</text><text x="613" y="1530">22</text><text x="632" y="1530">23</text><text x="652" y="1530">24</text>
</g>
<g fill="none" stroke="#000" stroke-width="1.2">
<rect x="680" y="1490" width="130" height="19"/><path d="M699,1490V1509M717,1490V1509M736,1490V1509M754,1490V1509M773,1490V1509M791,1490V1509"/>
<rect x="822" y="1492" width="20" height="17"/>
<rect x="852" y="1490" width="133" height="19"/><path d="M871,1490V1509M890,1490V1509M909,1490V1509M928,1490V1509M947,1490V1509M966,1490V1509"/>
<rect x="680" y="1509" width="305" height="19"/><path d="M699,1509V1528M718,1509V1528M737,1509V1528M756,1509V1528M775,1509V1528M794,1509V1528M813,1509V1528M832,1509V1528M851,1509V1528M870,1509V1528M889,1509V1528M908,1509V1528M927,1509V1528M946,1509V1528M965,1509V1528"/>
<rect x="703" y="1479" width="10" height="11"/><rect x="703" y="1528" width="10" height="10"/><rect x="946" y="1479" width="10" height="11"/><rect x="946" y="1528" width="10" height="10"/>
</g>
<g class="s" style="font-weight:normal" text-anchor="middle">
<text x="689" y="1504">1</text><text x="708" y="1504">2</text><text x="726" y="1504">3</text><text x="745" y="1504">4</text><text x="763" y="1504">5</text><text x="782" y="1504">6</text><text x="800" y="1504">7</text>
<text x="861" y="1504">8</text><text x="880" y="1504">9</text><text x="899" y="1504">10</text><text x="918" y="1504">11</text><text x="937" y="1504">12</text><text x="956" y="1504">13</text><text x="975" y="1504">14</text>
<text x="689" y="1523">15</text><text x="708" y="1523">16</text><text x="727" y="1523">17</text><text x="746" y="1523">18</text><text x="765" y="1523">19</text><text x="784" y="1523">20</text><text x="803" y="1523">21</text><text x="822" y="1523">22</text><text x="841" y="1523">23</text><text x="860" y="1523">24</text><text x="879" y="1523">25</text><text x="898" y="1523">26</text><text x="917" y="1523">27</text><text x="936" y="1523">28</text><text x="955" y="1523">29</text><text x="975" y="1523">30</text>
</g>
<g fill="none" stroke="#000" stroke-width="1.2">
<rect x="1003" y="1488" width="47" height="19"/><line x1="1026" y1="1488" x2="1026" y2="1507"/>
<rect x="1068" y="1488" width="165" height="19"/><path d="M1092,1488V1507M1115,1488V1507M1139,1488V1507M1162,1488V1507M1186,1488V1507M1209,1488V1507"/>
<rect x="1090" y="1479" width="85" height="9"/>
<rect x="1003" y="1507" width="230" height="19"/><path d="M1022,1507V1526M1041,1507V1526M1060,1507V1526M1080,1507V1526M1099,1507V1526M1118,1507V1526M1137,1507V1526M1157,1507V1526M1176,1507V1526M1195,1507V1526M1214,1507V1526"/>
<rect x="1003" y="1526" width="95" height="19"/><path d="M1022,1526V1545M1041,1526V1545M1060,1526V1545M1079,1526V1545"/>
<rect x="1115" y="1526" width="40" height="19"/><line x1="1135" y1="1526" x2="1135" y2="1545"/>
<rect x="1173" y="1526" width="60" height="19"/><path d="M1193,1526V1545M1213,1526V1545"/>
<rect x="1008" y="1478" width="4" height="10"/><rect x="1222" y="1478" width="4" height="10"/>
</g>
<g class="s" style="font-weight:normal" text-anchor="middle">
<text x="1014" y="1502">1</text><text x="1038" y="1502">2</text><text x="1080" y="1502">3</text><text x="1103" y="1502">4</text><text x="1127" y="1502">5</text><text x="1150" y="1502">6</text><text x="1174" y="1502">7</text><text x="1197" y="1502">8</text><text x="1221" y="1502">9</text>
<text x="1012" y="1521">10</text><text x="1031" y="1521">11</text><text x="1050" y="1521">12</text><text x="1070" y="1521">13</text><text x="1089" y="1521">14</text><text x="1108" y="1521">15</text><text x="1127" y="1521">16</text><text x="1147" y="1521">17</text><text x="1166" y="1521">18</text><text x="1185" y="1521">19</text><text x="1204" y="1521">20</text><text x="1223" y="1521">21</text>
<text x="1012" y="1540">22</text><text x="1031" y="1540">23</text><text x="1050" y="1540">24</text><text x="1069" y="1540">25</text><text x="1088" y="1540">26</text><text x="1125" y="1540">27</text><text x="1145" y="1540">28</text><text x="1183" y="1540">29</text><text x="1203" y="1540">30</text><text x="1223" y="1540">31</text>
</g>
</svg>
</body></html>
